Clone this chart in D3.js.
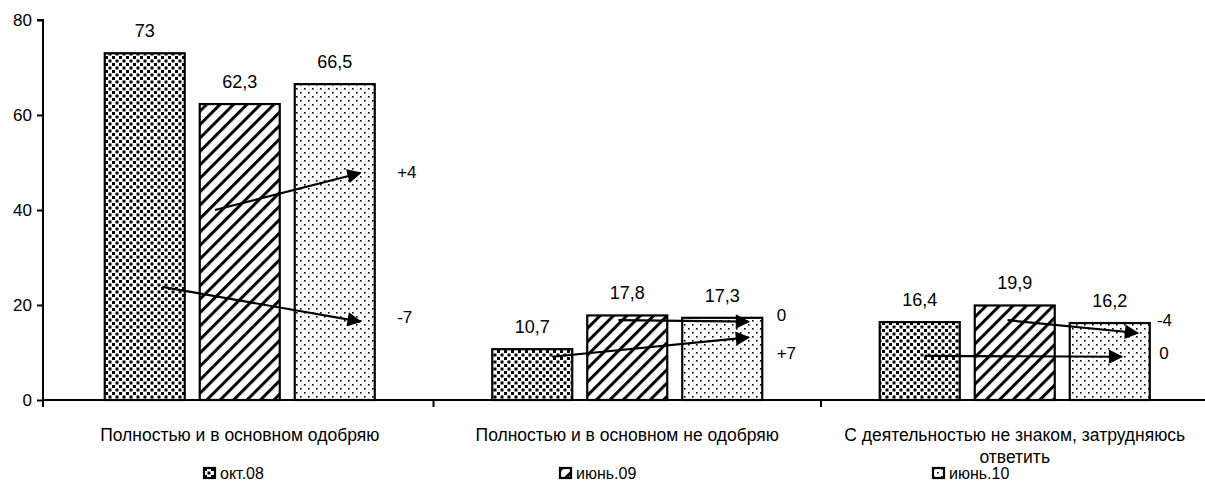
<!DOCTYPE html>
<html>
<head>
<meta charset="utf-8">
<script src="https://cdn.jsdelivr.net/npm/d3@7"></script>
<style>
  body { margin: 0; background: #fff; }
  svg { display: block; font-family: "Liberation Sans", Arial, sans-serif; }
</style>
</head>
<body>
<svg width="1205" height="488"></svg>
<script>
// chart data
var categories = ['Полностью и в основном одобряю', 'Полностью и в основном не одобряю', 'С деятельностью не знаком, затрудняюсь ответить'];
var series = ['окт.08', 'июнь.09', 'июнь.10'];
// values per category, per series
var valuesByCat = [
  [73, 62.3, 66.5],
  [10.7, 17.8, 17.3],
  [16.4, 19.9, 16.2]
];
var yTicks = [0, 20, 40, 60, 80];

// change arrows: category, from [series, pos in bar, value] -> to [series, pos in bar, value], label
var arrowCat = [0, 0, 1, 1, 2, 2];
var arrowFrom = [[0, 0.72, 23.8], [1, 0.19, 40.0], [1, 0.39, 16.8], [0, 0.75, 9.1], [1, 0.41, 16.8], [0, 0.56, 9.3]];
var arrowTo = [[2, 0.82, 16.5], [2, 0.82, 47.8], [2, 0.83, 16.5], [2, 0.83, 13.2], [2, 0.85, 14.1], [2, 0.65, 9.1]];
var arrowText = ['-7', '+4', '0', '+7', '-4', '0'];
var arrowTextPos = [[1.28, 16.2], [1.28, 46.7], [1.18, 16.6], [1.18, 8.6], [1.09, 15.6], [1.12, 8.6]];

var svg = d3.select('svg');
var defs = svg.append('defs');

// patterns
var p0 = defs.append('pattern').attr('id', 'pat0')
  .attr('patternUnits', 'userSpaceOnUse').attr('width', 7).attr('height', 7);
p0.append('rect').attr('width', 7).attr('height', 7).attr('fill', '#fff');
p0.append('rect').attr('x', 0).attr('y', 0).attr('width', 3).attr('height', 3).attr('fill', '#000');
p0.append('rect').attr('x', 3.5).attr('y', 3.5).attr('width', 3).attr('height', 3).attr('fill', '#000');

var p1 = defs.append('pattern').attr('id', 'pat1')
  .attr('patternUnits', 'userSpaceOnUse').attr('width', 9.5).attr('height', 9.5)
  .attr('patternTransform', 'rotate(45)');
p1.append('rect').attr('width', 9.5).attr('height', 9.5).attr('fill', '#fff');
p1.append('rect').attr('x', 0).attr('y', 0).attr('width', 3).attr('height', 9.5).attr('fill', '#000');

var p2 = defs.append('pattern').attr('id', 'pat2')
  .attr('patternUnits', 'userSpaceOnUse').attr('width', 8).attr('height', 8);
p2.append('rect').attr('width', 8).attr('height', 8).attr('fill', '#fff');
p2.append('rect').attr('x', 0).attr('y', 0).attr('width', 1.6).attr('height', 1.6).attr('fill', '#000');
p2.append('rect').attr('x', 4).attr('y', 4).attr('width', 1.6).attr('height', 1.6).attr('fill', '#000');

defs.append('marker').attr('id', 'arrow')
  .attr('viewBox', '0 0 10 10').attr('refX', 9).attr('refY', 5)
  .attr('markerWidth', 8).attr('markerHeight', 6.5)
  .attr('markerUnits', 'strokeWidth')
  .attr('orient', 'auto')
  .append('path').attr('d', 'M0,0L10,5L0,10z').attr('fill', '#000');

// scales
var x0 = d3.scaleBand().domain(categories).range([46, 1208.5]);
var x1 = d3.scaleBand().domain(series).range([0, 270]).paddingInner(15 / 95);
var y = d3.scaleLinear().domain([0, 80]).range([400, 20]);

function barX(ci, si) {
  var c = categories[ci];
  return x0(c) + x0.bandwidth() / 2 - 135 + x1(series[si]);
}

// y axis
var yAxis = d3.axisLeft(y).tickValues(yTicks).tickSize(6).tickPadding(5);
var gy = svg.append('g').attr('transform', 'translate(43,0)').call(yAxis);
gy.select('.domain').attr('d', 'M-6,20H0V407').attr('stroke-width', 2);
gy.selectAll('.tick line').attr('stroke-width', 2);
gy.selectAll('.tick text').attr('font-size', 17).attr('font-family', '"Liberation Sans", Arial, sans-serif');

// bars
var groups = svg.selectAll('g.cat').data(categories).enter().append('g').attr('class', 'cat');
groups.each(function(c, ci) {
  var g = d3.select(this);
  g.selectAll('rect').data(valuesByCat[ci]).enter().append('rect')
    .attr('x', (d, si) => barX(ci, si))
    .attr('y', d => y(d))
    .attr('width', x1.bandwidth())
    .attr('height', d => y(0) - y(d))
    .attr('fill', (d, si) => 'url(#pat' + si + ')')
    .attr('stroke', '#000')
    .attr('stroke-width', 2.2);
  g.selectAll('text.val').data(valuesByCat[ci]).enter().append('text')
    .attr('class', 'val')
    .attr('x', (d, si) => barX(ci, si) + x1.bandwidth() / 2)
    .attr('y', d => y(d) - 16)
    .attr('text-anchor', 'middle')
    .attr('font-size', 18)
    .text(d => String(d).replace('.', ','));
});

// x axis line and ticks
svg.append('line').attr('x1', 43).attr('x2', 1205).attr('y1', 400).attr('y2', 400)
  .attr('stroke', '#000').attr('stroke-width', 2);
var bounds = categories.map(c => x0(c)).slice(1);
svg.selectAll('line.xt').data(bounds).enter().append('line').attr('class', 'xt')
  .attr('x1', d => d).attr('x2', d => d).attr('y1', 400).attr('y2', 407)
  .attr('stroke', '#000').attr('stroke-width', 2);

// category labels
var catLines = [[categories[0]], [categories[1]], ['С деятельностью не знаком, затрудняюсь', 'ответить']];
categories.forEach(function(c, ci) {
  var t = svg.append('text').attr('x', x0(c) + x0.bandwidth() / 2).attr('y', 441)
    .attr('text-anchor', 'middle').attr('font-size', 17.5);
  catLines[ci].forEach(function(l, li) {
    t.append('tspan').attr('x', x0(c) + x0.bandwidth() / 2).attr('dy', li === 0 ? 0 : 22).text(l);
  });
});

// arrows
arrowCat.forEach(function(ci, i) {
  var f = arrowFrom[i], t = arrowTo[i];
  svg.append('line')
    .attr('x1', barX(ci, f[0]) + f[1] * x1.bandwidth()).attr('y1', y(f[2]))
    .attr('x2', barX(ci, t[0]) + t[1] * x1.bandwidth()).attr('y2', y(t[2]))
    .attr('stroke', '#000').attr('stroke-width', 2.2)
    .attr('marker-end', 'url(#arrow)');
  svg.append('text')
    .attr('x', barX(ci, 2) + arrowTextPos[i][0] * x1.bandwidth()).attr('y', y(arrowTextPos[i][1]))
    .attr('text-anchor', 'start').attr('font-size', 17)
    .text(arrowText[i]);
});

// legend
var legendX = [204, 560, 933];
var lg = svg.selectAll('g.lg').data(series).enter().append('g').attr('class', 'lg')
  .attr('transform', (d, i) => 'translate(' + legendX[i] + ',468)');
lg.append('rect').attr('width', 11).attr('height', 10)
  .attr('fill', (d, i) => 'url(#pat' + i + ')')
  .attr('stroke', '#000').attr('stroke-width', 2.2);
lg.append('text').attr('x', 16).attr('y', 10.5).attr('font-size', 16)
  .text(d => d);
</script>
</body>
</html>
